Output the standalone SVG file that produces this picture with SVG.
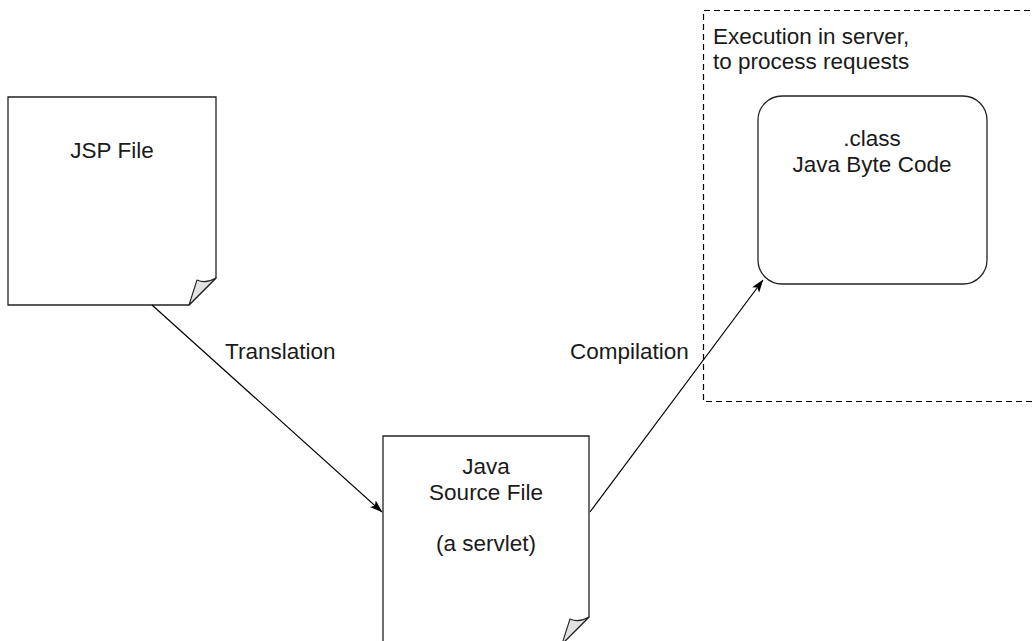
<svg xmlns="http://www.w3.org/2000/svg" width="1032" height="641" viewBox="0 0 1032 641">
<style>
text{font-family:"Liberation Sans",Arial,sans-serif;font-size:22.5px;fill:#1a1a1a}
.mid{text-anchor:middle}
.doc{fill:#fff;stroke:#222;stroke-width:1.3}
.fold{fill:#e2e2e2;stroke:#222;stroke-width:1.1;stroke-linejoin:round}
.edge{stroke:#000;stroke-width:1.2;fill:none;marker-end:url(#ah)}
.group{fill:none;stroke:#000;stroke-width:1.2;stroke-dasharray:6 4}
</style>
<defs>
<marker id="ah" viewBox="0 0 13 9" refX="12.5" refY="4.5" markerWidth="13" markerHeight="9" markerUnits="userSpaceOnUse" orient="auto">
<path d="M0,0 L13,4.5 L0,9 L3,4.5 Z" fill="#000"/>
</marker>
</defs>
<rect width="1032" height="641" fill="#fff"/>
<g id="server-boundary">
<path class="group" d="M1040,10.5 H703.5 V401.5 H1040"/>
<text x="713" y="44">Execution in server,</text>
<text x="713" y="69">to process requests</text>
</g>
<g id="jsp-file">
<path class="doc" d="M8,97 H216 V278 L189,305 H8 Z"/>
<path class="fold" d="M216,278 Q206,284 197,280 L189,305 Z"/>
<text class="mid" x="112" y="158">JSP File</text>
</g>
<g id="java-source">
<path class="doc" d="M383,436 H589 V617 L562,644 H383 Z"/>
<path class="fold" d="M589,617 Q579,623 570,619 L562,644 Z"/>
<text class="mid" x="486" y="474">Java</text>
<text class="mid" x="486" y="500">Source File</text>
<text class="mid" x="486" y="551">(a servlet)</text>
</g>
<g id="bytecode">
<rect x="758" y="96" width="229" height="188" rx="24" ry="24" fill="#fff" stroke="#222" stroke-width="1.3"/>
<text class="mid" x="872" y="146">.class</text>
<text class="mid" x="872" y="172">Java Byte Code</text>
</g>
<g id="connectors">
<line class="edge" x1="152" y1="305" x2="382" y2="512"/>
<line class="edge" x1="590" y1="512" x2="763" y2="280"/>
<text x="225" y="359">Translation</text>
<text x="570" y="359">Compilation</text>
</g>
</svg>
